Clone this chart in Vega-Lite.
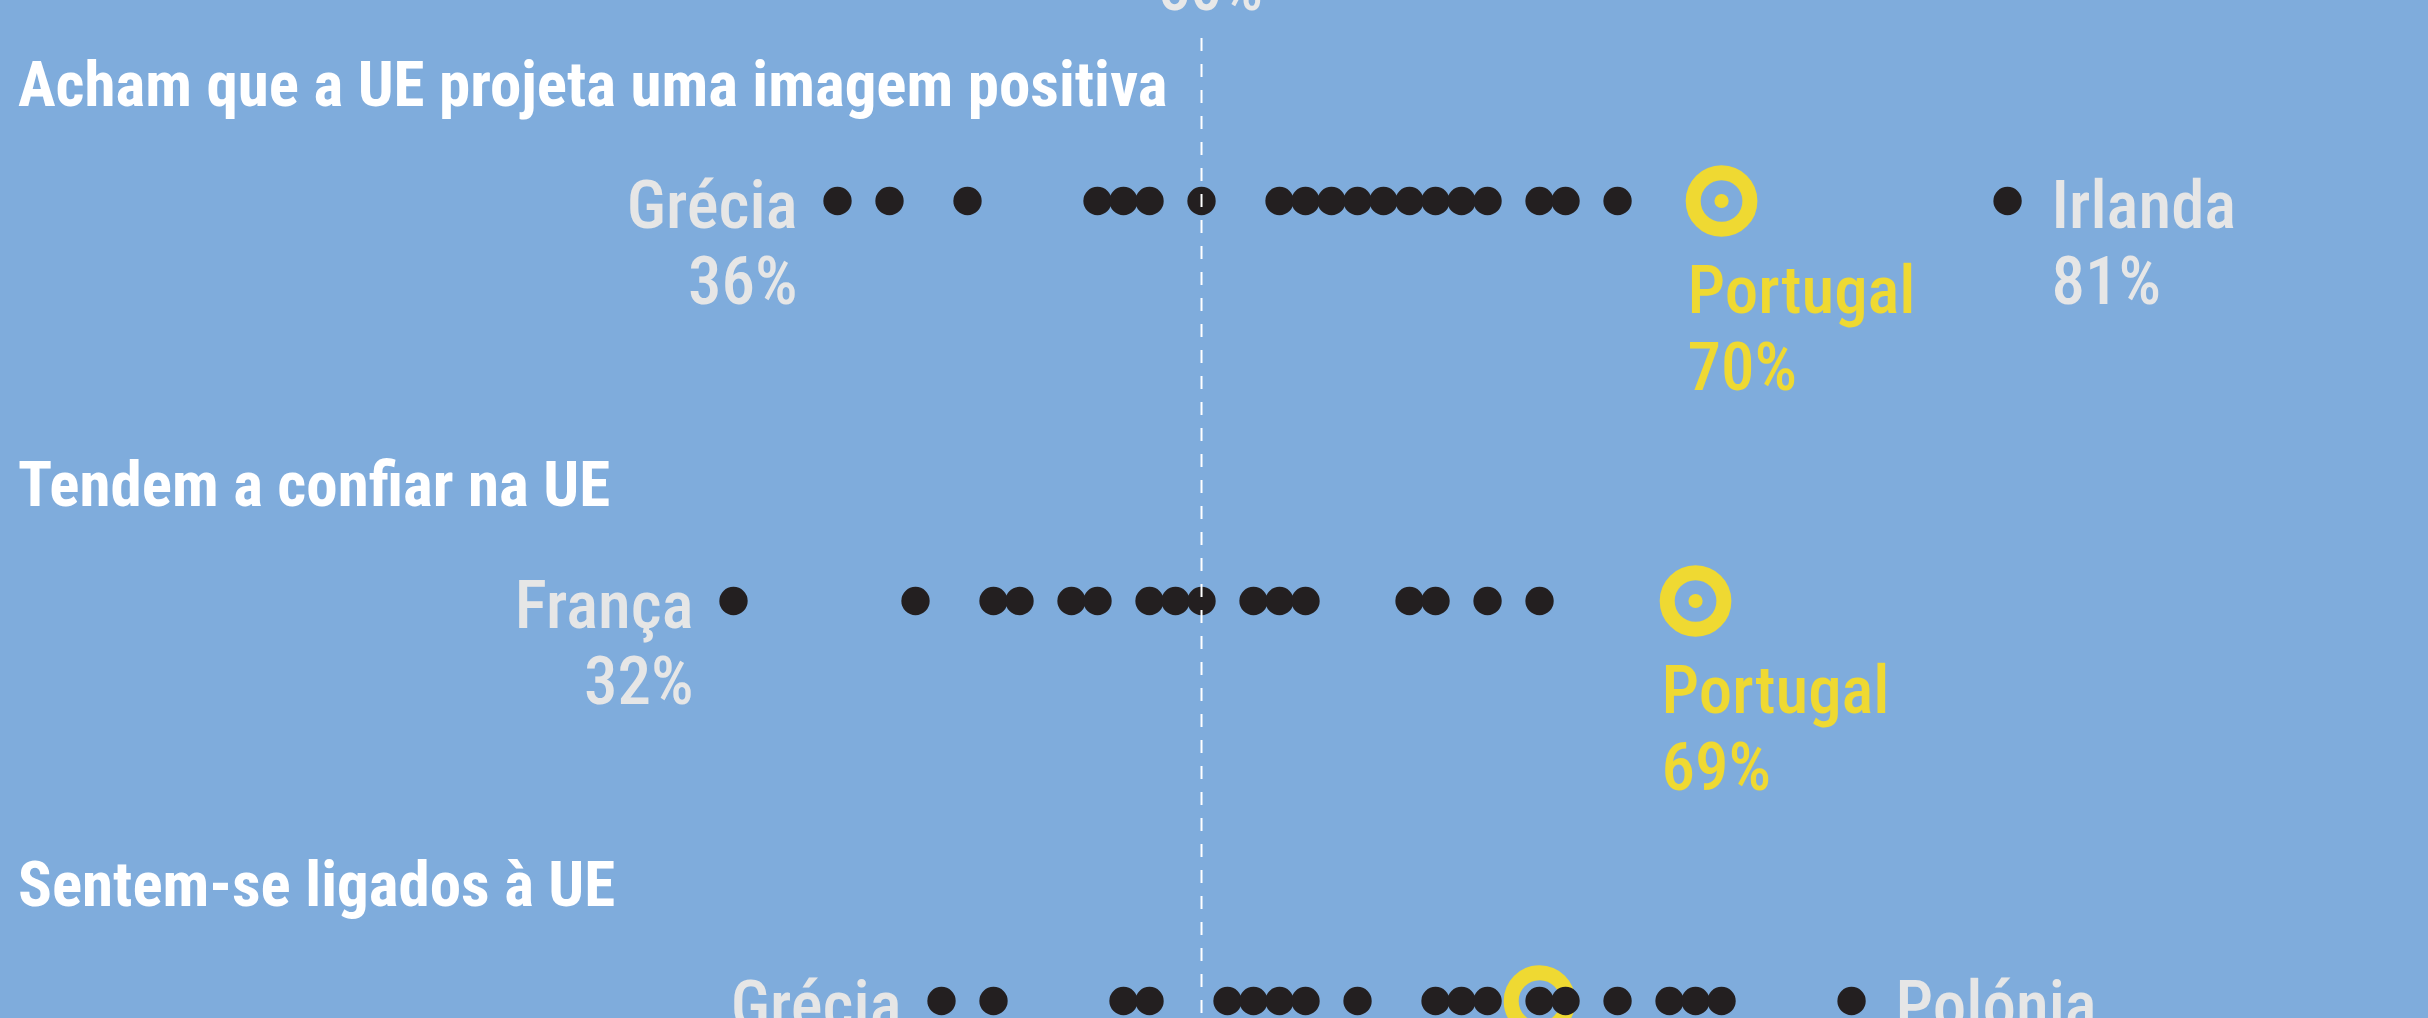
{
  "$schema": "https://vega.github.io/schema/vega-lite/v6.json",
  "width": 2428,
  "height": 1018,
  "padding": 0,
  "autosize": {"type": "none"},
  "background": "#7FACDC",
  "config": {"view": {"stroke": null}, "font": "Roboto Condensed"},
  "datasets": {
    "pontos": [
      {"row": 1, "value": 36, "role": "min", "label": "Grécia\n36%"},
      {"row": 1, "value": 38, "role": "", "label": ""},
      {"row": 1, "value": 41, "role": "", "label": ""},
      {"row": 1, "value": 46, "role": "", "label": ""},
      {"row": 1, "value": 47, "role": "", "label": ""},
      {"row": 1, "value": 48, "role": "", "label": ""},
      {"row": 1, "value": 50, "role": "", "label": ""},
      {"row": 1, "value": 53, "role": "", "label": ""},
      {"row": 1, "value": 54, "role": "", "label": ""},
      {"row": 1, "value": 55, "role": "", "label": ""},
      {"row": 1, "value": 56, "role": "", "label": ""},
      {"row": 1, "value": 57, "role": "", "label": ""},
      {"row": 1, "value": 58, "role": "", "label": ""},
      {"row": 1, "value": 59, "role": "", "label": ""},
      {"row": 1, "value": 60, "role": "", "label": ""},
      {"row": 1, "value": 61, "role": "", "label": ""},
      {"row": 1, "value": 63, "role": "", "label": ""},
      {"row": 1, "value": 64, "role": "", "label": ""},
      {"row": 1, "value": 66, "role": "", "label": ""},
      {"row": 1, "value": 70, "role": "pt", "label": "Portugal\n70%"},
      {"row": 1, "value": 81, "role": "max", "label": "Irlanda\n81%"},
      {"row": 2, "value": 32, "role": "min", "label": "França\n32%"},
      {"row": 2, "value": 39, "role": "", "label": ""},
      {"row": 2, "value": 42, "role": "", "label": ""},
      {"row": 2, "value": 43, "role": "", "label": ""},
      {"row": 2, "value": 45, "role": "", "label": ""},
      {"row": 2, "value": 46, "role": "", "label": ""},
      {"row": 2, "value": 48, "role": "", "label": ""},
      {"row": 2, "value": 49, "role": "", "label": ""},
      {"row": 2, "value": 50, "role": "", "label": ""},
      {"row": 2, "value": 52, "role": "", "label": ""},
      {"row": 2, "value": 53, "role": "", "label": ""},
      {"row": 2, "value": 54, "role": "", "label": ""},
      {"row": 2, "value": 58, "role": "", "label": ""},
      {"row": 2, "value": 59, "role": "", "label": ""},
      {"row": 2, "value": 61, "role": "", "label": ""},
      {"row": 2, "value": 63, "role": "", "label": ""},
      {"row": 2, "value": 69, "role": "pt", "label": "Portugal\n69%"},
      {"row": 3, "value": 40, "role": "min", "label": "Grécia\n40%"},
      {"row": 3, "value": 42, "role": "", "label": ""},
      {"row": 3, "value": 47, "role": "", "label": ""},
      {"row": 3, "value": 48, "role": "", "label": ""},
      {"row": 3, "value": 51, "role": "", "label": ""},
      {"row": 3, "value": 52, "role": "", "label": ""},
      {"row": 3, "value": 53, "role": "", "label": ""},
      {"row": 3, "value": 54, "role": "", "label": ""},
      {"row": 3, "value": 56, "role": "", "label": ""},
      {"row": 3, "value": 59, "role": "", "label": ""},
      {"row": 3, "value": 60, "role": "", "label": ""},
      {"row": 3, "value": 61, "role": "", "label": ""},
      {"row": 3, "value": 63, "role": "pt", "label": "Portugal\n63%"},
      {"row": 3, "value": 63, "role": "", "label": ""},
      {"row": 3, "value": 64, "role": "", "label": ""},
      {"row": 3, "value": 66, "role": "", "label": ""},
      {"row": 3, "value": 68, "role": "", "label": ""},
      {"row": 3, "value": 69, "role": "", "label": ""},
      {"row": 3, "value": 70, "role": "", "label": ""},
      {"row": 3, "value": 75, "role": "max", "label": "Polónia\n75%"}
    ],
    "titulos": [
      {"row": 1, "titulo": "Acham que a UE projeta uma imagem positiva"},
      {"row": 2, "titulo": "Tendem a confiar na UE"},
      {"row": 3, "titulo": "Sentem-se ligados à UE"}
    ],
    "referencia": [{"ref": 50, "label": "50%"}]
  },
  "layer": [
    {
      "data": {"name": "titulos"},
      "mark": {"type": "text", "align": "left", "baseline": "alphabetic", "dy": -95, "fontSize": 63, "fontWeight": "bold", "color": "#FFFFFF"},
      "encoding": {
        "x": {"datum": 4.48, "type": "quantitative", "scale": {"domain": [3.79, 97.17], "nice": false, "zero": false}, "axis": null},
        "y": {"field": "row", "type": "quantitative", "scale": {"domain": [0.4975, 3.0425], "reverse": true, "nice": false, "zero": false}, "axis": null},
        "text": {"field": "titulo"}
      }
    },
    {
      "data": {"name": "pontos"},
      "transform": [{"filter": "datum.role === 'pt'"}],
      "mark": {"type": "point", "filled": false, "shape": "circle", "size": 3217, "strokeWidth": 15, "color": "#EFD932", "opacity": 1},
      "encoding": {
        "x": {"field": "value", "type": "quantitative", "scale": {"domain": [3.79, 97.17], "nice": false, "zero": false}, "axis": null},
        "y": {"field": "row", "type": "quantitative", "scale": {"domain": [0.4975, 3.0425], "reverse": true, "nice": false, "zero": false}, "axis": null}
      }
    },
    {
      "data": {"name": "pontos"},
      "transform": [{"filter": "datum.role === 'pt'"}],
      "mark": {"type": "circle", "size": 201, "color": "#EFD932", "opacity": 1},
      "encoding": {
        "x": {"field": "value", "type": "quantitative", "scale": {"domain": [3.79, 97.17], "nice": false, "zero": false}, "axis": null},
        "y": {"field": "row", "type": "quantitative", "scale": {"domain": [0.4975, 3.0425], "reverse": true, "nice": false, "zero": false}, "axis": null}
      }
    },
    {
      "data": {"name": "pontos"},
      "transform": [{"filter": "datum.role !== 'pt'"}],
      "mark": {"type": "circle", "size": 804, "color": "#231F20", "opacity": 1},
      "encoding": {
        "x": {"field": "value", "type": "quantitative", "scale": {"domain": [3.79, 97.17], "nice": false, "zero": false}, "axis": null},
        "y": {"field": "row", "type": "quantitative", "scale": {"domain": [0.4975, 3.0425], "reverse": true, "nice": false, "zero": false}, "axis": null}
      }
    },
    {
      "data": {"name": "referencia"},
      "mark": {"type": "rule", "color": "#FFFFFF", "strokeWidth": 2, "strokeDash": [13, 13]},
      "encoding": {
        "x": {"field": "ref", "type": "quantitative", "scale": {"domain": [3.79, 97.17], "nice": false, "zero": false}, "axis": null},
        "y": {"datum": 0.5925, "type": "quantitative", "scale": {"domain": [0.4975, 3.0425], "reverse": true, "nice": false, "zero": false}, "axis": null},
        "y2": {"datum": 3.1}
      }
    },
    {
      "data": {"name": "referencia"},
      "mark": {"type": "text", "align": "center", "baseline": "alphabetic", "dx": 9, "fontSize": 64, "fontWeight": 500, "color": "#E8E8E8"},
      "encoding": {
        "x": {"field": "ref", "type": "quantitative", "scale": {"domain": [3.79, 97.17], "nice": false, "zero": false}, "axis": null},
        "y": {"datum": 0.5225, "type": "quantitative", "scale": {"domain": [0.4975, 3.0425], "reverse": true, "nice": false, "zero": false}, "axis": null},
        "text": {"field": "label"}
      }
    },
    {
      "data": {"name": "pontos"},
      "transform": [{"filter": "datum.role === 'min'"}],
      "mark": {"type": "text", "align": "right", "baseline": "alphabetic", "dx": -40, "dy": 27, "lineBreak": "\n", "lineHeight": 76, "fontSize": 67, "fontWeight": 500, "color": "#E6E6E6"},
      "encoding": {
        "x": {"field": "value", "type": "quantitative", "scale": {"domain": [3.79, 97.17], "nice": false, "zero": false}, "axis": null},
        "y": {"field": "row", "type": "quantitative", "scale": {"domain": [0.4975, 3.0425], "reverse": true, "nice": false, "zero": false}, "axis": null},
        "text": {"field": "label"}
      }
    },
    {
      "data": {"name": "pontos"},
      "transform": [{"filter": "datum.role === 'max'"}],
      "mark": {"type": "text", "align": "left", "baseline": "alphabetic", "dx": 44, "dy": 27, "lineBreak": "\n", "lineHeight": 76, "fontSize": 67, "fontWeight": 500, "color": "#E6E6E6"},
      "encoding": {
        "x": {"field": "value", "type": "quantitative", "scale": {"domain": [3.79, 97.17], "nice": false, "zero": false}, "axis": null},
        "y": {"field": "row", "type": "quantitative", "scale": {"domain": [0.4975, 3.0425], "reverse": true, "nice": false, "zero": false}, "axis": null},
        "text": {"field": "label"}
      }
    },
    {
      "data": {"name": "pontos"},
      "transform": [{"filter": "datum.role === 'pt'"}],
      "mark": {"type": "text", "align": "left", "baseline": "alphabetic", "dx": -34, "dy": 112, "lineBreak": "\n", "lineHeight": 77, "fontSize": 67, "fontWeight": 500, "color": "#EFD932"},
      "encoding": {
        "x": {"field": "value", "type": "quantitative", "scale": {"domain": [3.79, 97.17], "nice": false, "zero": false}, "axis": null},
        "y": {"field": "row", "type": "quantitative", "scale": {"domain": [0.4975, 3.0425], "reverse": true, "nice": false, "zero": false}, "axis": null},
        "text": {"field": "label"}
      }
    }
  ]
}
